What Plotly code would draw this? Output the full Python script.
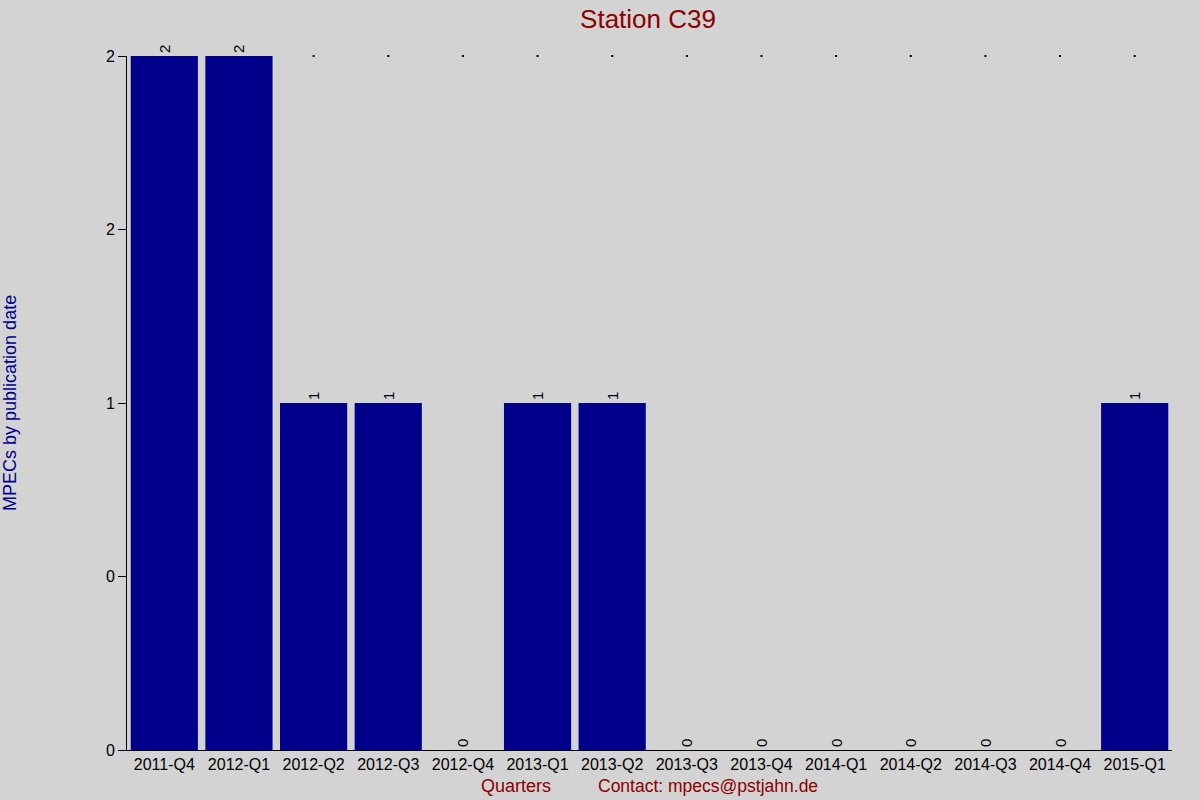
import plotly.graph_objects as go

# quarterly MPEC counts for station C39
quarters = ['2011-Q4', '2012-Q1', '2012-Q2', '2012-Q3', '2012-Q4', '2013-Q1', '2013-Q2',
            '2013-Q3', '2013-Q4', '2014-Q1', '2014-Q2', '2014-Q3', '2014-Q4', '2015-Q1']
mpecs = [2, 2, 1, 1, 0, 1, 1, 0, 0, 0, 0, 0, 0, 1]

# y ticks as printed on the chart (rounded labels)
ytick_vals = [0, 0.5, 1, 1.5, 2]
ytick_text = ['0', '0', '1', '2', '2']

top = max(mpecs)

fig = go.Figure()

fig.add_trace(go.Bar(
    x=quarters,
    y=mpecs,
    marker=dict(color='#00008B', line=dict(width=0)),
    text=[str(v) for v in mpecs],
    textposition='outside',
    textangle=-90,
    textfont=dict(family='Liberation Sans, Arial', size=15, color='black'),
    cliponaxis=False,
    showlegend=False))

# little dots along the top where bars do not reach the maximum
dot_x = [q for q, v in zip(quarters, mpecs) if v < top]
fig.add_trace(go.Scatter(
    x=dot_x,
    y=[top] * len(dot_x),
    mode='markers',
    marker=dict(color='black', size=2, symbol='square'),
    cliponaxis=False,
    hoverinfo='skip',
    showlegend=False))

fig.update_layout(
    width=1200, height=800,
    paper_bgcolor='#D3D3D3',
    plot_bgcolor='#D3D3D3',
    margin=dict(l=127, r=28, t=56, b=50),
    bargap=0.1,
    font=dict(family='Liberation Sans, Arial', size=16, color='black'),
    title=dict(text='Station C39', x=0.54, xanchor='center', y=0.977, yanchor='middle',
               font=dict(size=26, color='#8B0000')),
    xaxis=dict(range=[-0.5, len(quarters) - 0.5], showgrid=False, showline=True,
               linecolor='black', linewidth=1,
               ticks='', tickfont=dict(size=16), zeroline=False, fixedrange=True),
    yaxis=dict(range=[0, top], showgrid=False, showline=True, linecolor='black', linewidth=1,
               ticks='outside', ticklen=8, tickcolor='black',
               tickvals=ytick_vals, ticktext=ytick_text, zeroline=False,
               tickfont=dict(size=16)),
    annotations=[
        dict(text='MPECs by publication date', xref='paper', yref='paper',
             x=-0.112, y=0.5, xanchor='center', yanchor='middle', textangle=-90,
             showarrow=False, font=dict(size=18, color='#00008B')),
        dict(text='Quarters', xref='paper', yref='paper', x=0.372, y=-0.052,
             xanchor='center', yanchor='middle', showarrow=False,
             font=dict(size=18, color='#8B0000')),
        dict(text='Contact: mpecs@pstjahn.de', xref='paper', yref='paper', x=0.556, y=-0.052,
             xanchor='center', yanchor='middle', showarrow=False,
             font=dict(size=17.5, color='#8B0000')),
    ])

# drop the default page margin so the chart fills the window
fig.write_html('out.html', config={'displayModeBar': False},
               post_script="document.body.style.margin='0';")
